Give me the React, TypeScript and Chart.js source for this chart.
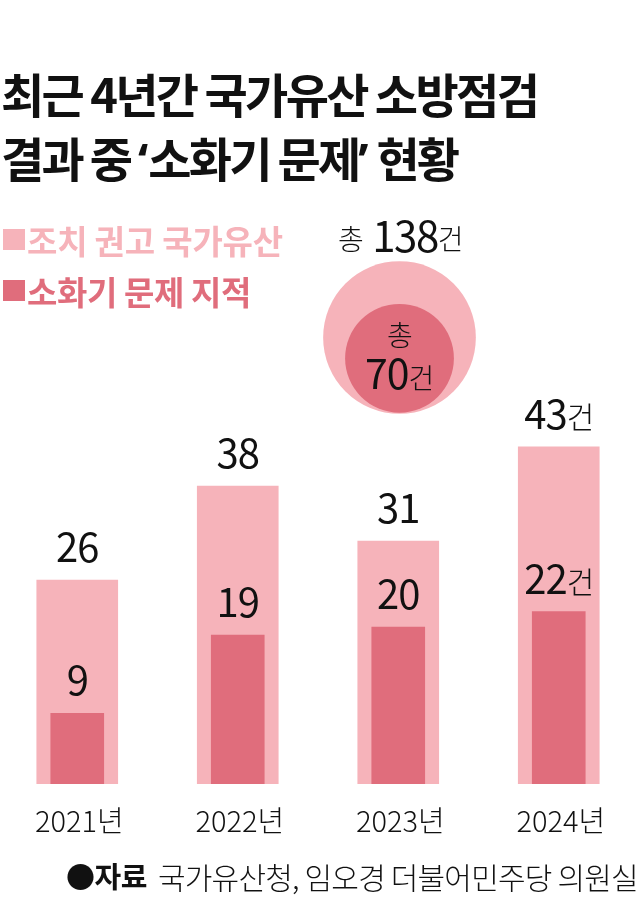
import React, { useEffect, useRef } from "react";
import { Chart, registerables } from "chart.js";

Chart.register(...registerables);

const FONT = '"Noto Sans CJK KR", "Noto Sans", sans-serif';
const LIGHT = "#f6b3ba";
const DARK = "#e06d7c";

const years = ["2021년", "2022년", "2023년", "2024년"];
const recommended = [26, 38, 31, 43];
const extinguisher = [9, 19, 20, 22];
const totals = [138, 70];
const unit = "건";

// bubble radius goes with the square root of the total
const bubbleScale = 6.5;

const valueLabels = {
  id: "valueLabels",
  afterDatasetsDraw(chart: any) {
    const { ctx, scales } = chart;
    const draw = (value: number, i: number) => {
      const x = scales.x.getPixelForValue(i);
      const y = scales.y.getPixelForValue(value) - 18;
      const text = String(value);
      const suffix = i === years.length - 1 ? unit : "";
      ctx.save();
      ctx.textBaseline = "alphabetic";
      ctx.textAlign = "left";
      ctx.fillStyle = "#111";
      ctx.letterSpacing = "-1px";
      ctx.font = `400 40px ${FONT}`;
      const w1 = ctx.measureText(text).width;
      ctx.font = `300 30px ${FONT}`;
      const w2 = suffix ? ctx.measureText(suffix).width : 0;
      const left = x - (w1 + w2) / 2;
      ctx.font = `400 40px ${FONT}`;
      ctx.fillText(text, left, y);
      if (suffix) {
        ctx.font = `300 30px ${FONT}`;
        ctx.fillText(suffix, left + w1, y - 1);
      }
      ctx.restore();
    };
    recommended.forEach(draw);
    extinguisher.forEach(draw);
  },
};

const App: React.FC = () => {
  const chartRef = useRef<HTMLCanvasElement>(null);

  useEffect(() => {
    document.body.style.margin = "0";
    const chart = new Chart(chartRef.current as HTMLCanvasElement, {
      type: "bar",
      plugins: [valueLabels],
      data: {
        labels: years,
        datasets: [
          {
            label: "조치 권고 국가유산",
            data: recommended,
            backgroundColor: LIGHT,
            barThickness: 81,
            grouped: false,
            order: 3,
          },
          {
            label: "소화기 문제 지적",
            data: extinguisher,
            backgroundColor: DARK,
            barThickness: 53,
            grouped: false,
            order: 2,
          },
          {
            type: "bubble",
            label: "총 조치 권고",
            xAxisID: "px",
            data: [{ x: 402.5, y: 56.95, r: Math.sqrt(totals[0]) * bubbleScale }],
            backgroundColor: LIGHT,
            borderWidth: 0,
            clip: false,
            order: 1,
          },
          {
            type: "bubble",
            label: "총 소화기 문제",
            xAxisID: "px",
            data: [{ x: 402.5, y: 54.3, r: Math.sqrt(totals[1]) * bubbleScale }],
            backgroundColor: DARK,
            borderWidth: 0,
            clip: false,
            order: 0,
          },
        ] as any,
      },
      options: {
        animation: false,
        responsive: false,
        events: [],
        layout: { padding: 0, autoPadding: false },
        plugins: {
          legend: { display: false },
          tooltip: { enabled: false },
          title: { display: false },
        },
        scales: {
          x: {
            grid: { display: false },
            border: { display: false },
            afterFit: (scale: any) => {
              scale.height = 130;
            },
            ticks: {
              color: "#111",
              padding: 12,
              labelOffset: 2,
              maxRotation: 0,
              autoSkip: false,
              font: { family: FONT, size: 29, weight: 300 },
            },
          },
          px: { type: "linear", display: false, offset: false, min: 0, max: 642 },
          y: { display: false, min: 0, max: 100 },
        },
      } as any,
    });

    return () => {
      chart.destroy();
    };
  }, []);

  const abs = (style: React.CSSProperties): React.CSSProperties => ({
    position: "absolute",
    whiteSpace: "nowrap",
    fontFamily: FONT,
    color: "#111",
    lineHeight: 1,
    ...style,
  });

  const quote: React.CSSProperties = { fontFamily: '"Noto Sans", sans-serif', letterSpacing: 0 };
  const small: React.CSSProperties = { fontSize: 28, fontWeight: 300, position: "relative", top: -2 };

  return (
    <div style={{ position: "relative", width: 640, height: 914, overflow: "hidden", background: "#fff" }}>
      <canvas
        ref={chartRef}
        width={642}
        height={914}
        style={{ position: "absolute", left: -3, top: 0 }}
      ></canvas>

      <div style={abs({ left: 1, top: 69, fontSize: 47, fontWeight: 700, letterSpacing: -2.65 })}>
        최근 4년간 국가유산 소방점검
      </div>
      <div style={abs({ left: 1, top: 133, fontSize: 47, fontWeight: 700, letterSpacing: -2.8 })}>
        결과 중 <span style={quote}>‘</span>소화기 문제<span style={quote}>’</span> 현황
      </div>

      <div style={abs({ left: 3, top: 229, width: 22, height: 21, background: LIGHT })}></div>
      <div style={abs({ left: 27, top: 224, fontSize: 33, fontWeight: 700, letterSpacing: -0.2, color: LIGHT })}>
        조치 권고 국가유산
      </div>
      <div style={abs({ left: 3, top: 280, width: 22, height: 21, background: DARK })}></div>
      <div style={abs({ left: 27, top: 275, fontSize: 33, fontWeight: 700, letterSpacing: -0.4, color: DARK })}>
        소화기 문제 지적
      </div>

      <div style={abs({ left: 338, top: 213, fontSize: 42, letterSpacing: -1.5 })}>
        <span style={{ ...small, marginRight: 10 }}>총</span>
        {totals[0]}
        <span style={small}>{unit}</span>
      </div>
      <div style={abs({ left: 0, width: 800, top: 320, textAlign: "center", fontSize: 28, fontWeight: 300 })}>총</div>
      <div style={abs({ left: 365, top: 351, fontSize: 41, letterSpacing: -1 })}>
        {totals[1]}
        <span style={{ fontSize: 28, fontWeight: 300 }}>{unit}</span>
      </div>

      <div style={abs({ left: 66, top: 861, fontSize: 29, fontWeight: 700, letterSpacing: -0.5 })}>●자료</div>
      <div style={abs({ left: 158, top: 861, fontSize: 30, fontWeight: 300, letterSpacing: -0.8 })}>
        국가유산청, 임오경 더불어민주당 의원실
      </div>
    </div>
  );
};

export default App;
